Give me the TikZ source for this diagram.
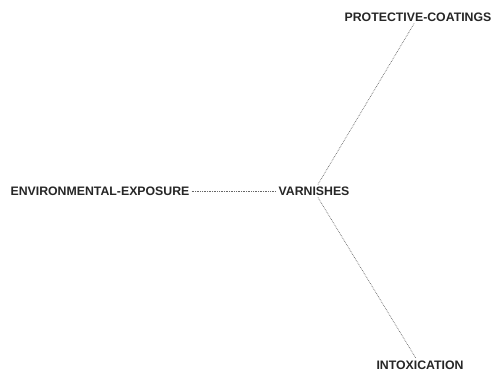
\documentclass[tikz,border=0pt]{standalone}
\usepackage{fontspec}
\setmainfont{Liberation Sans}
\usepackage{tikz}
\usetikzlibrary{positioning}

\tikzset{
    term/.style = {font=\fontsize{12.3}{14}\selectfont\bfseries, text=black!85, inner sep=2pt},
    link/.style = {draw=black!60, densely dotted, line width=0.7pt}
}

\begin{document}
\begin{tikzpicture}[x = 1pt, y = -1pt]
            \useasboundingbox (0,0) rectangle (492,371);
            \node[term] (varnishes) at (314,191) {VARNISHES};
            \node[term] (exposure) at (100,191) {ENVIRONMENTAL-EXPOSURE};
            \node[term] (coatings) at (418,17) {PROTECTIVE-COATINGS};
            \node[term] (intoxication) at (420,365) {INTOXICATION};
            \draw[link] (exposure) -- (varnishes);
            \draw[link] (varnishes) -- (coatings);
            \draw[link] (varnishes) -- (intoxication);
        \end{tikzpicture}
\end{document}
